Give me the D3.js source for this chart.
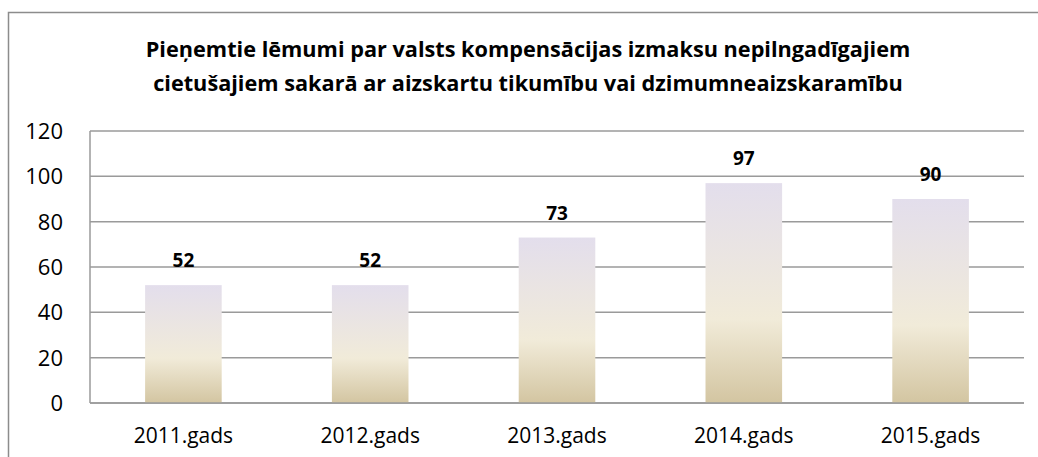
<!DOCTYPE html>
<html>
<head>
<meta charset="utf-8">
<script src="https://cdn.jsdelivr.net/npm/d3@7"></script>
<style>
  body { margin: 0; background: #fff; }
  svg { display: block; font-family: "Open Sans", "Noto Sans", sans-serif; }
</style>
</head>
<body>
<script>
const width = 1038;
const height = 457;

const titleLines = [
  "Pieņemtie lēmumi par valsts kompensācijas izmaksu nepilngadīgajiem",
  "cietušajiem sakarā ar aizskartu tikumību vai dzimumneaizskaramību"
];
const years = ["2011.gads", "2012.gads", "2013.gads", "2014.gads", "2015.gads"];
const decisions = [52, 52, 73, 97, 90];
const yTicks = [0, 20, 40, 60, 80, 100, 120];

const margin = { left: 90, right: 14, top: 131, bottom: 54 };

const svg = d3.select("body").append("svg")
  .attr("width", width)
  .attr("height", height);

const defs = svg.append("defs");
const grad = defs.append("linearGradient")
  .attr("id", "barFill")
  .attr("x1", 0).attr("y1", 0).attr("x2", 0).attr("y2", 1);
grad.append("stop").attr("offset", "0%").attr("stop-color", "#e3deec");
grad.append("stop").attr("offset", "62%").attr("stop-color", "#f1ebd9");
grad.append("stop").attr("offset", "100%").attr("stop-color", "#d3c5a1");

// outer chart border
svg.append("rect")
  .attr("x", 8.5).attr("y", 12.5)
  .attr("width", width + 20).attr("height", height + 20)
  .attr("fill", "none")
  .attr("stroke", "#8c8c8c")
  .attr("stroke-width", 1.5);

const x = d3.scaleBand()
  .domain(years)
  .range([margin.left, width - margin.right])
  .paddingInner(0.59)
  .paddingOuter(0.295);

const y = d3.scaleLinear()
  .domain([0, 120])
  .range([height - margin.bottom, margin.top]);

// gridlines
svg.append("g")
  .selectAll("line")
  .data(yTicks)
  .enter().append("line")
  .attr("x1", margin.left)
  .attr("x2", width - margin.right)
  .attr("y1", (d) => y(d))
  .attr("y2", (d) => y(d))
  .attr("stroke", "#9a9a9a")
  .attr("stroke-width", 1.5);

// y axis line
svg.append("line")
  .attr("x1", margin.left).attr("x2", margin.left)
  .attr("y1", y(120)).attr("y2", y(0))
  .attr("stroke", "#9a9a9a")
  .attr("stroke-width", 1.5);

// y tick labels
svg.append("g")
  .selectAll("text")
  .data(yTicks)
  .enter().append("text")
  .attr("x", 63)
  .attr("y", (d) => y(d))
  .attr("dy", "0.36em")
  .attr("text-anchor", "end")
  .style("font-size", "22px")
  .style("fill", "#000")
  .text((d) => d);

// bars
svg.append("g")
  .selectAll("rect")
  .data(decisions)
  .enter().append("rect")
  .attr("x", (d, i) => x(years[i]))
  .attr("width", x.bandwidth())
  .attr("y", (d) => y(d))
  .attr("height", (d) => y(0) - y(d))
  .attr("fill", "url(#barFill)");

// bottom axis line drawn above bars
svg.append("line")
  .attr("x1", margin.left).attr("x2", width - margin.right)
  .attr("y1", y(0)).attr("y2", y(0))
  .attr("stroke", "#9a9a9a")
  .attr("stroke-width", 1.5);

// value labels
svg.append("g")
  .selectAll("text")
  .data(decisions)
  .enter().append("text")
  .attr("x", (d, i) => x(years[i]) + x.bandwidth() / 2)
  .attr("y", (d) => y(d) - 18)
  .attr("text-anchor", "middle")
  .style("font-size", "19px")
  .style("font-weight", "bold")
  .style("fill", "#000")
  .text((d) => d);

// category labels
svg.append("g")
  .selectAll("text")
  .data(years)
  .enter().append("text")
  .attr("x", (d) => x(d) + x.bandwidth() / 2)
  .attr("y", 443)
  .attr("text-anchor", "middle")
  .style("font-size", "21px")
  .style("fill", "#000")
  .text((d) => d);

// title
svg.append("g")
  .selectAll("text")
  .data(titleLines)
  .enter().append("text")
  .attr("x", 528)
  .attr("y", (d, i) => 57 + i * 34)
  .attr("text-anchor", "middle")
  .style("font-size", "21.7px")
  .style("font-weight", "bold")
  .style("fill", "#000")
  .text((d) => d);
</script>
</body>
</html>
